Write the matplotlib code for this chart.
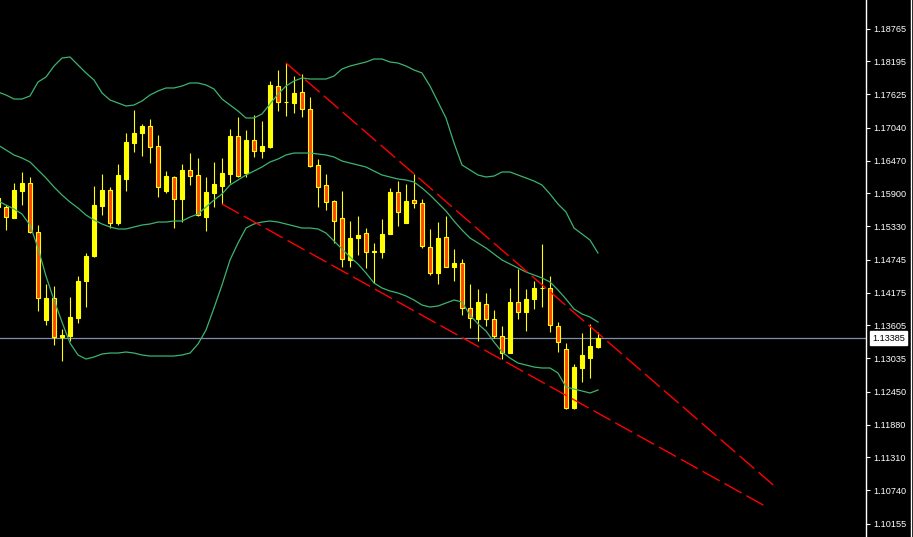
import matplotlib
matplotlib.use('Agg')
import matplotlib.pyplot as plt
import numpy as np

plt.rcParams['font.family'] = ['Liberation Sans', 'DejaVu Sans']

# candle data, oldest first (index -1 is cut by the left edge)
idx = np.arange(-1, 75)
opens = [1.15663, 1.15663, 1.15472, 1.15942, 1.16081, 1.15229, 1.13698, 1.14081, 1.13403, 1.13420,
         1.13733, 1.14376, 1.14811, 1.15681, 1.15959, 1.15385, 1.16150, 1.16776, 1.16950, 1.17072,
         1.16724, 1.15942, 1.16185, 1.15802, 1.16307, 1.16220, 1.15489, 1.15907, 1.16029, 1.16237,
         1.16898, 1.16255, 1.16828, 1.16637, 1.16707, 1.17767, 1.17489, 1.17472, 1.17663, 1.17367,
         1.16394, 1.16046, 1.15768, 1.15472, 1.14742, 1.15124, 1.15211, 1.14881, 1.14881, 1.15194,
         1.15924, 1.15385, 1.15785, 1.15733, 1.14968, 1.14516, 1.15142, 1.14620, 1.14689, 1.13907,
         1.13716, 1.13976, 1.13716, 1.13420, 1.13124, 1.14011, 1.13837, 1.14063, 1.14255, 1.14255,
         1.13594, 1.13194, 1.12168, 1.12864, 1.13037, 1.13229]
highs = [1.15872, 1.15698, 1.16081, 1.16272, 1.16185, 1.15350, 1.14324, 1.14290, 1.13542, 1.14098,
         1.14463, 1.14863, 1.16029, 1.16237, 1.16011, 1.16411, 1.16950, 1.17350, 1.17107, 1.17194,
         1.16915, 1.16289, 1.16202, 1.16411, 1.16602, 1.16515, 1.16185, 1.16446, 1.16515, 1.17020,
         1.17228, 1.17002, 1.17263, 1.17159, 1.17854, 1.18046, 1.18167, 1.17941, 1.17976, 1.17576,
         1.16498, 1.16237, 1.15785, 1.15942, 1.15420, 1.15507, 1.15298, 1.15037, 1.15455, 1.15994,
         1.16115, 1.16063, 1.16237, 1.15802, 1.15281, 1.15402, 1.15507, 1.14933, 1.14759, 1.14324,
         1.14237, 1.14168, 1.13872, 1.13594, 1.14255, 1.14585, 1.14237, 1.14376, 1.15020, 1.14463,
         1.13663, 1.13298, 1.12933, 1.13472, 1.13629, 1.13490]
lows = [1.15611, 1.15263, 1.15472, 1.15698, 1.15211, 1.13855, 1.13611, 1.13263, 1.12985, 1.13333,
        1.13646, 1.13924, 1.14794, 1.15524, 1.15298, 1.15350, 1.15942, 1.16620, 1.16550, 1.16428,
        1.15837, 1.15907, 1.15298, 1.15402, 1.16046, 1.15507, 1.15246, 1.15663, 1.15715, 1.16081,
        1.16185, 1.16185, 1.16533, 1.16515, 1.16689, 1.17333, 1.17246, 1.17298, 1.17228, 1.16359,
        1.15663, 1.15611, 1.15037, 1.14620, 1.14620, 1.14829, 1.14603, 1.14342, 1.14776, 1.15194,
        1.15333, 1.15385, 1.15646, 1.14950, 1.14481, 1.14324, 1.14620, 1.14376, 1.13785, 1.13559,
        1.13333, 1.13594, 1.13385, 1.13020, 1.13124, 1.13716, 1.13507, 1.13890, 1.13924, 1.13490,
        1.13142, 1.12151, 1.12151, 1.12620, 1.12690, 1.13211]
closes = [1.15820, 1.15489, 1.15959, 1.16081, 1.15229, 1.14081, 1.14081, 1.13403, 1.13437, 1.13750,
          1.14376, 1.14811, 1.15698, 1.15959, 1.15385, 1.16220, 1.16794, 1.16950, 1.17072, 1.16707,
          1.16011, 1.16202, 1.15802, 1.16307, 1.16202, 1.15524, 1.15924, 1.16063, 1.16255, 1.16898,
          1.16202, 1.16828, 1.16637, 1.16724, 1.17785, 1.17489, 1.17489, 1.17646, 1.17367, 1.16376,
          1.16011, 1.15750, 1.15420, 1.14759, 1.15124, 1.15176, 1.14881, 1.14898, 1.15194, 1.15924,
          1.15576, 1.15768, 1.15733, 1.14985, 1.14516, 1.15124, 1.14620, 1.14689, 1.13907, 1.13733,
          1.14011, 1.13716, 1.13420, 1.13124, 1.14011, 1.13837, 1.14063, 1.14255, 1.14255, 1.13611,
          1.13316, 1.12168, 1.12881, 1.13090, 1.13246, 1.13385]

# bollinger bands, one value per candle
bb_upper = [1.17663, 1.17611, 1.17541, 1.17541, 1.17594, 1.17837, 1.17924, 1.18115, 1.18254, 1.18272,
            1.18133, 1.17994, 1.17872, 1.17646, 1.17524, 1.17472, 1.17420, 1.17437, 1.17507, 1.17611,
            1.17681, 1.17733, 1.17733, 1.17767, 1.17820, 1.17820, 1.17785, 1.17715, 1.17541, 1.17437,
            1.17333, 1.17211, 1.17211, 1.17281, 1.17454, 1.17628, 1.17767, 1.17854, 1.17907, 1.17889,
            1.17889, 1.17889, 1.17941, 1.18063, 1.18115, 1.18150, 1.18185, 1.18237, 1.18237, 1.18185,
            1.18167, 1.18115, 1.18046, 1.17994, 1.17767, 1.17489, 1.17211, 1.16776, 1.16394, 1.16307,
            1.16220, 1.16185, 1.16202, 1.16272, 1.16272, 1.16220, 1.16168, 1.16115, 1.16046, 1.15889,
            1.15715, 1.15576, 1.15298, 1.15194, 1.15089, 1.14863]
bb_middle = [1.16741, 1.16655, 1.16568, 1.16515, 1.16446, 1.16307, 1.16168, 1.16011, 1.15872, 1.15750,
             1.15646, 1.15524, 1.15437, 1.15368, 1.15316, 1.15281, 1.15281, 1.15316, 1.15350, 1.15368,
             1.15402, 1.15402, 1.15420, 1.15420, 1.15489, 1.15541, 1.15663, 1.15785, 1.15889, 1.16046,
             1.16133, 1.16220, 1.16289, 1.16359, 1.16446, 1.16498, 1.16568, 1.16602, 1.16602, 1.16602,
             1.16585, 1.16568, 1.16533, 1.16463, 1.16428, 1.16394, 1.16359, 1.16289, 1.16220, 1.16185,
             1.16150, 1.16133, 1.16098, 1.15994, 1.15872, 1.15733, 1.15594, 1.15420, 1.15263, 1.15124,
             1.15037, 1.14950, 1.14846, 1.14742, 1.14672, 1.14603, 1.14533, 1.14481, 1.14429, 1.14359,
             1.14220, 1.14063, 1.13890, 1.13803, 1.13750, 1.13663]
bb_lower = [1.15768, 1.15698, 1.15629, 1.15541, 1.15350, 1.14950, 1.14463, 1.14046, 1.13663, 1.13298,
            1.13090, 1.13020, 1.13055, 1.13107, 1.13124, 1.13124, 1.13142, 1.13124, 1.13090, 1.13072,
            1.13072, 1.13072, 1.13072, 1.13090, 1.13124, 1.13281, 1.13524, 1.13907, 1.14307, 1.14742,
            1.15037, 1.15298, 1.15368, 1.15402, 1.15420, 1.15402, 1.15368, 1.15333, 1.15298, 1.15298,
            1.15281, 1.15211, 1.15072, 1.14933, 1.14794, 1.14672, 1.14516, 1.14342, 1.14255, 1.14203,
            1.14168, 1.14116, 1.14046, 1.13959, 1.13924, 1.13942, 1.13994, 1.14046, 1.14011, 1.13785,
            1.13629, 1.13507, 1.13316, 1.13142, 1.13037, 1.12950, 1.12916, 1.12881, 1.12864, 1.12864,
            1.12777, 1.12533, 1.12498, 1.12464, 1.12429, 1.12481]

# hand drawn trend lines (start/end bar index and price)
trend_upper_x = [35, 95.9]
trend_upper_y = [1.18167, 1.10829]
trend_lower_x = [27, 95.1]
trend_lower_y = [1.15715, 1.10446]

last_price = 1.13385
price_ticks = [1.18765, 1.18195, 1.17625, 1.17040, 1.16470, 1.15900, 1.15330, 1.14745,
               1.14175, 1.13605, 1.13035, 1.12450, 1.11880, 1.11310, 1.10740, 1.10155]

BULL = '#FFFF00'
BEAR = '#FF4500'
BAND = '#3CB371'

fig = plt.figure(figsize=(9.13, 5.37), dpi=100, facecolor='black')
ax = fig.add_axes([0, 0, 866 / 913, 1])
ax.set_facecolor('black')

o = np.array(opens)
c = np.array(closes)
bull = c >= o
body_lo = np.minimum(o, c)
body_h = np.abs(c - o)

# wicks then bodies
ax.vlines(idx, lows, highs, color=BULL, linewidth=0.8, zorder=2)
ax.bar(idx, body_h, bottom=body_lo, width=0.56,
       color=np.where(bull, BULL, BEAR), edgecolor=BULL, linewidth=0.8, zorder=3)

# bands
for band in (bb_upper, bb_middle, bb_lower):
    ax.plot(idx, band, color=BAND, linewidth=0.9, zorder=4)

# trend lines
for tx, ty in ((trend_upper_x, trend_upper_y), (trend_lower_x, trend_lower_y)):
    ax.plot(tx, ty, color='#FF0000', linewidth=1.0, dashes=(14, 4), zorder=5)

# last price line
ax.axhline(last_price, color='#7F8FA6', linewidth=0.9, zorder=1)

ax.set_xlim(-0.75, 107.5)
ax.set_ylim(1.09925, 1.19263)

ax.set_xticks([])
ax.yaxis.tick_right()
ax.set_yticks(price_ticks)
ax.set_yticklabels(['%.5f' % t for t in price_ticks])
ax.tick_params(axis='y', colors='white', labelcolor='white', labelsize=6.6, length=3, width=0.8, pad=2.5)
for s in ('left', 'top', 'bottom'):
    ax.spines[s].set_visible(False)
ax.spines['right'].set_color('white')
ax.spines['right'].set_linewidth(1.0)

# label box for the last price
ax.annotate('%.5f' % last_price, xy=(1.0, last_price), xycoords=('axes fraction', 'data'),
            xytext=(4.5, 0), textcoords='offset points', ha='left', va='center',
            fontsize=6.6, color='black', annotation_clip=False,
            bbox=dict(boxstyle='square,pad=0.25', facecolor='white', edgecolor='white'))

# right border of the price scale
fig.add_artist(plt.Line2D([910.5 / 913, 910.5 / 913], [0, 1], color='white', linewidth=1.0))

fig.savefig('out.png', dpi=100, facecolor='black')
